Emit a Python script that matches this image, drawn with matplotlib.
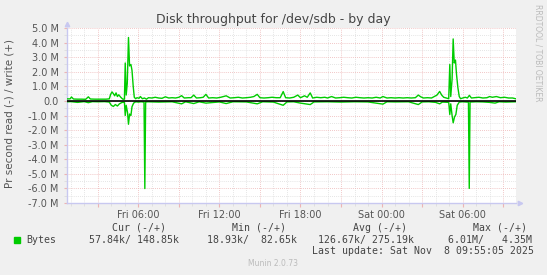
import numpy as np
import matplotlib.pyplot as plt
from matplotlib.ticker import FixedLocator, FuncFormatter

# Hours since Fri 00:00, throughput in MB/s (read is drawn below zero)
write_hours = [
    0.72, 0.95, 1.05, 1.2, 1.5, 1.8, 2.1, 2.3, 2.45, 2.8, 3.2, 3.6, 3.85,
    3.95, 4.05, 4.15, 4.25, 4.35, 4.45, 4.55, 4.7, 4.85, 4.97,
    5.03, 5.1, 5.18, 5.27, 5.35, 5.45, 5.53, 5.62, 5.7, 5.8, 5.9,
    6.05, 6.15, 6.3, 6.45, 6.6, 6.75, 7.0, 7.25, 7.5, 7.75, 8.0, 8.25,
    8.5, 8.75, 9.0, 9.2, 9.4, 9.7, 9.9, 10.1, 10.3, 10.6, 10.8, 11.0,
    11.2, 11.5, 11.8, 12.1, 12.5, 12.8, 13.1, 13.4, 13.7, 14.0, 14.3,
    14.55, 14.8, 15.0, 15.3, 15.6, 15.9, 16.2, 16.5, 16.72, 16.9, 17.2,
    17.5, 17.8, 18.0, 18.3, 18.5, 18.72, 18.9, 19.2, 19.5, 19.8, 20.0,
    20.3, 20.6, 20.9, 21.2, 21.5, 21.8, 22.1, 22.4, 22.7, 23.0, 23.3,
    23.6, 23.9, 24.1, 24.4, 24.7, 25.0, 25.3, 25.6, 25.9, 26.2, 26.5,
    26.72, 26.9, 27.1, 27.4, 27.7, 27.9, 28.1, 28.3, 28.45, 28.6, 28.8,
    28.97, 29.05, 29.12, 29.22, 29.3, 29.38, 29.47, 29.55, 29.65, 29.75,
    29.85, 30.0, 30.2, 30.35, 30.5, 30.65, 30.9, 31.2, 31.5, 31.8, 32.0,
    32.2, 32.5, 32.8, 33.1, 33.4, 33.7, 33.92,
]
write_mbps = [
    0.14, 0.14, 0.27, 0.13, 0.12, 0.12, 0.11, 0.28, 0.13, 0.12, 0.12, 0.12, 0.14,
    0.45, 0.62, 0.50, 0.35, 0.55, 0.30, 0.42, 0.25, 0.12, 0.12,
    2.60, 0.40, 1.20, 4.35, 2.40, 2.50, 2.10, 1.00, 0.25, 0.15, 0.22,
    0.18, 0.30, 0.15, 0.20, 0.12, 0.22, 0.20, 0.25, 0.20, 0.18, 0.28, 0.20,
    0.22, 0.20, 0.25, 0.36, 0.20, 0.22, 0.22, 0.40, 0.20, 0.22, 0.25, 0.45,
    0.20, 0.22, 0.20, 0.25, 0.35, 0.20, 0.22, 0.25, 0.20, 0.22, 0.25,
    0.30, 0.45, 0.22, 0.20, 0.22, 0.25, 0.22, 0.22, 0.64, 0.22, 0.20,
    0.25, 0.40, 0.22, 0.35, 0.25, 0.55, 0.20, 0.25, 0.22, 0.25, 0.20,
    0.30, 0.20, 0.22, 0.25, 0.22, 0.20, 0.25, 0.22, 0.20, 0.22, 0.20,
    0.25, 0.20, 0.30, 0.20, 0.22, 0.20, 0.22, 0.20, 0.22, 0.20, 0.22,
    0.40, 0.28, 0.20, 0.22, 0.20, 0.30, 0.40, 0.65, 0.40, 0.25, 0.20,
    0.15, 2.50, 0.30, 1.50, 4.25, 2.60, 2.80, 1.80, 0.90, 0.30,
    0.15, 0.20, 0.25, 0.20, 0.38, 0.20, 0.22, 0.25, 0.20, 0.22, 0.30,
    0.25, 0.30, 0.22, 0.25, 0.20, 0.20, 0.15,
]

read_hours = [
    0.72, 1.0, 1.5, 2.0, 2.3, 2.6, 3.0, 3.5, 3.85, 4.0, 4.15, 4.3, 4.45,
    4.6, 4.8, 4.97, 5.03, 5.1, 5.2, 5.27, 5.35, 5.45, 5.53, 5.65, 5.8,
    6.0, 6.2, 6.42, 6.48, 6.54, 6.7, 7.5, 8.5, 9.2, 9.5, 10.1, 10.5,
    11.0, 12.0, 12.5, 13.0, 14.0, 14.8, 15.2, 16.0, 16.72, 17.0, 17.5,
    18.0, 18.72, 19.0, 20.0, 21.0, 22.0, 23.0, 24.1, 24.4, 25.0, 26.0,
    26.72, 27.0, 27.5, 28.0, 28.3, 28.5, 28.97, 29.05, 29.12, 29.22,
    29.3, 29.4, 29.5, 29.6, 29.75, 30.0, 30.3, 30.43, 30.49, 30.55,
    31.0, 31.5, 32.0, 32.4, 32.7, 33.2, 33.92,
]
read_mbps = [
    0.06, 0.05, 0.10, 0.05, 0.12, 0.05, 0.06, 0.05, 0.08, 0.30, 0.38, 0.25, 0.35,
    0.20, 0.10, 0.10, 1.00, 0.30, 0.80, 1.60, 0.90, 1.00, 0.40, 0.15, 0.06,
    0.08, 0.06, 0.08, 6.01, 0.08, 0.06, 0.08, 0.06, 0.20, 0.06, 0.18, 0.06,
    0.15, 0.07, 0.18, 0.06, 0.07, 0.20, 0.06, 0.08, 0.30, 0.07, 0.06,
    0.15, 0.25, 0.07, 0.06, 0.08, 0.06, 0.07, 0.22, 0.06, 0.07, 0.06,
    0.25, 0.07, 0.06, 0.10, 0.20, 0.08, 0.10, 0.93, 0.20, 1.00,
    1.50, 1.10, 0.93, 0.30, 0.08, 0.06, 0.08, 0.08, 6.00, 0.08,
    0.06, 0.07, 0.10, 0.15, 0.06, 0.08, 0.06,
]

x_label_hours = [6, 12, 18, 24, 30]
x_labels = ["Fri 06:00", "Fri 12:00", "Fri 18:00", "Sat 00:00", "Sat 06:00"]

legend_name = "Bytes"
legend_cur = "57.84k/ 148.85k"
legend_min = "18.93k/  82.65k"
legend_avg = "126.67k/ 275.19k"
legend_max = "6.01M/   4.35M"
last_update = "Last update: Sat Nov  8 09:55:05 2025"

W, H = 547, 275
GREEN = "#00CC00"
MAJOR_GRID = "#EDB4B4"
MINOR_GRID = "#DCDCDC"
AXIS = "#C8C8F0"


def fig_xy(x, y):
    """Pixel position (from top-left) to figure fraction."""
    return x / W, 1 - y / H


def y_fmt(v, pos):
    if abs(v) < 1e-9:
        return "0.0"
    return f"{v:.1f} M"


def x_fmt(v, pos):
    for h, lab in zip(x_label_hours, x_labels):
        if abs(v - h) < 1e-6:
            return lab
    return ""


def main():
    fig = plt.figure(figsize=(W / 100, H / 100), dpi=100, facecolor="#F0F0F0")
    left, top, right, bottom = 67, 28, 516, 203
    ax = fig.add_axes([left / W, 1 - bottom / H, (right - left) / W, (bottom - top) / H])
    ax.set_facecolor("white")

    ax.plot(write_hours, write_mbps, color=GREEN, lw=1.0, zorder=3)
    ax.plot(read_hours, -np.array(read_mbps), color=GREEN, lw=1.0, zorder=3)
    ax.axhline(0, color="black", lw=1.2, zorder=4)

    ax.set_xlim(0.72, 33.95)
    ax.set_ylim(-7, 5)

    # grid: red every 3h / 1M, grey every 1h / 0.5M
    ax.xaxis.set_major_locator(FixedLocator(np.arange(3, 34, 3)))
    ax.xaxis.set_minor_locator(FixedLocator(np.arange(1, 34, 1)))
    ax.yaxis.set_major_locator(FixedLocator(np.arange(-7, 5.1, 1)))
    ax.yaxis.set_minor_locator(FixedLocator(np.arange(-6.5, 5, 1)))
    ax.xaxis.set_major_formatter(FuncFormatter(x_fmt))
    ax.yaxis.set_major_formatter(FuncFormatter(y_fmt))

    ax.grid(which="major", color=MAJOR_GRID, lw=0.6, ls=(0, (1, 1.5)), zorder=1)
    ax.grid(which="minor", color=MINOR_GRID, lw=0.6, ls=(0, (1, 1.5)), zorder=1)
    ax.set_axisbelow(True)

    ax.tick_params(which="major", axis="x", direction="out", length=3,
                   color=MAJOR_GRID, labelsize=7, labelcolor="#555555", pad=2)
    ax.tick_params(which="minor", axis="x", direction="out", length=2, color=MINOR_GRID)
    ax.tick_params(which="major", axis="y", direction="out", length=2,
                   color=MAJOR_GRID, labelsize=7, labelcolor="#555555", pad=4)
    ax.tick_params(which="minor", axis="y", direction="out", length=2, color=MINOR_GRID)

    for side in ["top", "right"]:
        ax.spines[side].set_visible(False)
    for side in ["left", "bottom"]:
        ax.spines[side].set_color(AXIS)
        ax.spines[side].set_linewidth(1.0)
    ax.plot([0], [1.022], marker="^", ms=3.2, color=AXIS,
            transform=ax.transAxes, clip_on=False)
    ax.plot([1.01], [0], marker=">", ms=3.2, color=AXIS,
            transform=ax.transAxes, clip_on=False)

    fig.text(*fig_xy(273, 19), "Disk throughput for /dev/sdb - by day",
             ha="center", va="center", fontsize=9, color="#444444")
    fig.text(*fig_xy(10, 113), "Pr second read (-) / write (+)", rotation=90,
             ha="center", va="center", fontsize=7.5, color="#555555")
    fig.text(*fig_xy(538, 53), "RRDTOOL / TOBI OETIKER", rotation=270,
             ha="center", va="center", fontsize=5.5, color="#BBBBBB")

    mono = dict(family="DejaVu Sans Mono", fontsize=7.1, color="#444444", va="center")
    fig.text(*fig_xy(111.7, 228), "Cur (-/+)", **mono)
    fig.text(*fig_xy(231.7, 228), "Min (-/+)", **mono)
    fig.text(*fig_xy(352.7, 228), "Avg (-/+)", **mono)
    fig.text(*fig_xy(472.7, 228), "Max (-/+)", **mono)
    fig.text(*fig_xy(26.7, 240), legend_name, **mono)
    fig.text(*fig_xy(89, 240), legend_cur, **mono)
    fig.text(*fig_xy(207.3, 240), legend_min, **mono)
    fig.text(*fig_xy(318.3, 240), legend_avg, **mono)
    fig.text(*fig_xy(448, 240), legend_max, **mono)
    fig.text(*fig_xy(311.7, 251.5), last_update, **mono)
    fig.patches.append(plt.Rectangle(fig_xy(14, 242.5), 6 / W, 6 / H,
                                     transform=fig.transFigure, color=GREEN))
    fig.text(*fig_xy(273, 264), "Munin 2.0.73", ha="center", va="center",
             fontsize=5.5, color="#BBBBBB")

    fig.savefig("out.png", dpi=100, facecolor=fig.get_facecolor())
    plt.close(fig)


if __name__ == "__main__":
    main()
